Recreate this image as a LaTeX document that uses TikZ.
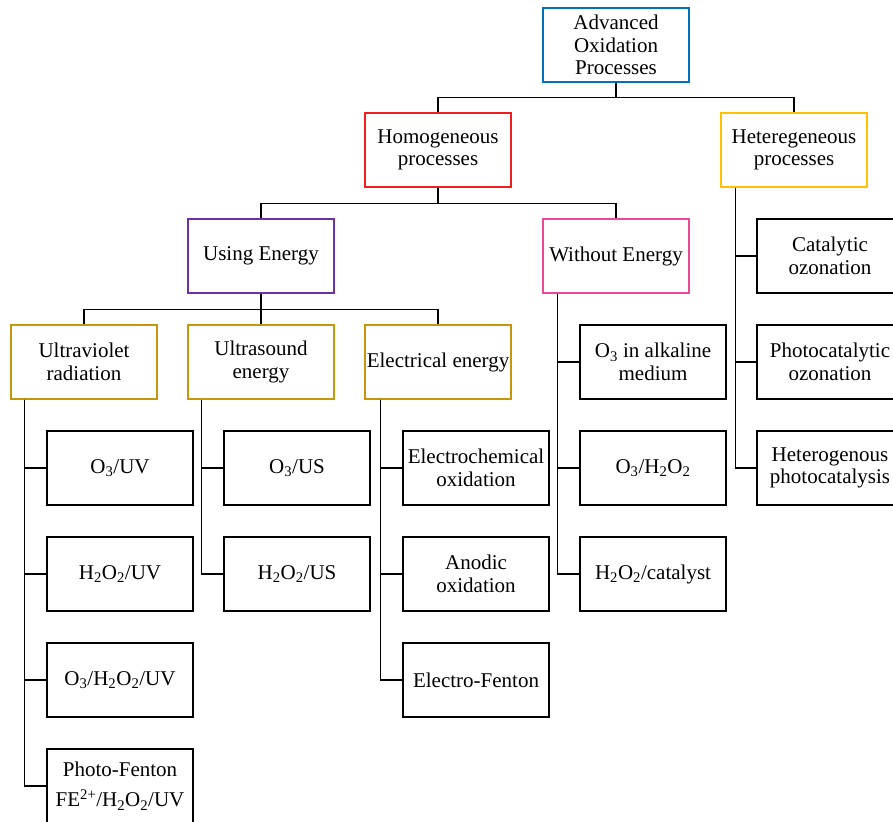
\documentclass[tikz,border=0pt]{standalone}
\usepackage{fontspec}
\setmainfont{Liberation Serif}
\usepackage{tikz}
\usetikzlibrary{positioning}
\definecolor{aopblue}{RGB}{0,112,192}
\definecolor{homred}{RGB}{240,30,30}
\definecolor{hetgold}{RGB}{255,192,0}
\definecolor{usepurple}{RGB}{112,48,160}
\definecolor{wopink}{RGB}{236,72,150}
\definecolor{srcgold}{RGB}{200,150,10}
\newcommand{\peroxide}{H\textsubscript{2}O\textsubscript{2}}
\newcommand{\ozone}{O\textsubscript{3}}
\tikzstyle{line} = [draw,line width=1.3pt]
\tikzstyle{box} = [draw,rectangle,line width=1.3pt,minimum width=146pt,minimum height=74pt,inner xsep=0.5pt,align=center,font=\fontsize{21}{22.5}\selectfont]

\begin{document}
\begin{tikzpicture}[x=1pt,y=-1pt,node distance=106pt]
            \tikzstyle{leaf} = [box,draw=black]
            \useasboundingbox (0,0) rectangle (893,821);
            \clip (0,0) rectangle (893,821);
          \node[box,draw=aopblue] (aop) at (616,45) {Advanced\\Oxidation\\Processes};
          \node[box,draw=homred] (homogeneous) at (438,150) {Homogeneous\\processes};
          \node[box,draw=hetgold] (heterogeneous) at (794,150) {Heteregeneous\\processes};
          \node[box,draw=usepurple] (usingenergy) at (261,256) {Using Energy};
          \node[box,draw=wopink] (withoutenergy) at (616,256) {Without Energy};
          \node[box,draw=srcgold] (ultraviolet) at (84,362) {Ultraviolet\\radiation};
          \node[box,draw=srcgold] (ultrasound) at (261,362) {Ultrasound\\energy};
          \node[box,draw=srcgold] (electrical) at (438,362) {Electrical energy};

          \node[leaf] (o3uv) at (120,468) {\ozone/UV};
          \node[leaf] (h2o2uv) [below of=o3uv] {\peroxide/UV};
          \node[leaf] (o3h2o2uv) [below of=h2o2uv] {\ozone/\peroxide/UV};
          \node[leaf] (photofenton) [below of=o3h2o2uv] {Photo-Fenton\\[8pt]FE\textsuperscript{2+}/\peroxide/UV};

          \node[leaf] (o3us) at (297,468) {\ozone/US};
          \node[leaf] (h2o2us) [below of=o3us] {\peroxide/US};

          \node[leaf] (electrochemical) at (476,468) {Electrochemical\\oxidation};
          \node[leaf] (anodic) [below of=electrochemical] {Anodic\\oxidation};
          \node[leaf] (electrofenton) [below of=anodic] {Electro-Fenton};

          \node[leaf] (alkaline) at (653,362) {\ozone{} in alkaline\\medium};
          \node[leaf] (o3h2o2) [below of=alkaline] {\ozone/\peroxide};
          \node[leaf] (h2o2cat) [below of=o3h2o2] {\peroxide/catalyst};

          \node[leaf] (catalytic) at (830,256) {Catalytic\\ozonation};
          \node[leaf] (photocatalytic) [below of=catalytic] {Photocatalytic\\ozonation};
          \node[leaf] (heterogenous) [below of=photocatalytic] {Heterogenous\\photocatalysis};

          \draw[line] (aop.south) -- ++(0,15) -| (homogeneous.north);
          \draw[line] (aop.south) -- ++(0,15) -| (heterogeneous.north);
          \draw[line] (homogeneous.south) -- ++(0,16) -| (usingenergy.north);
          \draw[line] (homogeneous.south) -- ++(0,16) -| (withoutenergy.north);
          \foreach \src in {ultraviolet,ultrasound,electrical}
            \draw[line] (usingenergy.south) -- ++(0,16) -| (\src.north);

          \foreach \leaf in {o3uv,h2o2uv,o3h2o2uv,photofenton}
            \draw[line] ([xshift=14pt]ultraviolet.south west) |- (\leaf.west);
          \foreach \leaf in {o3us,h2o2us}
            \draw[line] ([xshift=14pt]ultrasound.south west) |- (\leaf.west);
          \foreach \leaf in {electrochemical,anodic,electrofenton}
            \draw[line] ([xshift=16pt]electrical.south west) |- (\leaf.west);
          \foreach \leaf in {alkaline,o3h2o2,h2o2cat}
            \draw[line] ([xshift=15pt]withoutenergy.south west) |- (\leaf.west);
          \foreach \leaf in {catalytic,photocatalytic,heterogenous}
            \draw[line] ([xshift=15pt]heterogeneous.south west) |- (\leaf.west);
        \end{tikzpicture}
\end{document}
